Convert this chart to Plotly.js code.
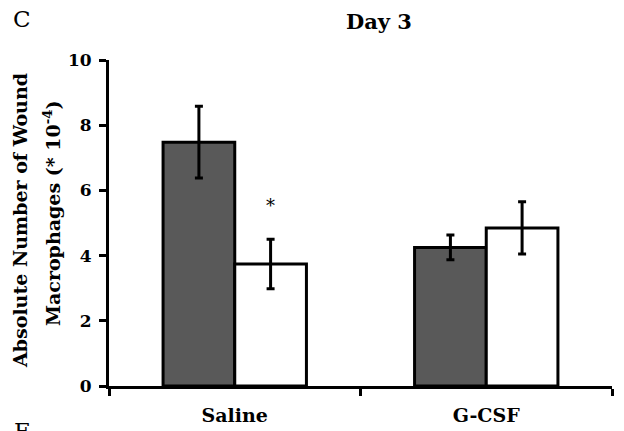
<!DOCTYPE html>
<html>
<head>
<meta charset="utf-8">
<script src="https://cdn.plot.ly/plotly-3.0.1.min.js"></script>
<style>html,body{margin:0;padding:0;background:#fff;}#chart{width:624px;height:431px;}</style>
</head>
<body>
<div id="chart"></div>
<script>
var categories = ['Saline', 'G-CSF'];
var darkValues = [7.48, 4.25];
var darkErrors = [1.1, 0.38];
var whiteValues = [3.74, 4.85];
var whiteErrors = [0.76, 0.8];
var yTicks = [0, 2, 4, 6, 8, 10];

var FONT = 'DejaVu Serif, Liberation Serif, serif';
var W = 503, H = 326, L = 109, T = 60;
function px(x) { return (x - L) / W; }
function py(y) { return (T + H - y) / H; }

var traces = [
  {
    type: 'bar', x: categories, y: darkValues,
    marker: {color: '#595959', line: {color: '#000', width: 3}},
    error_y: {type: 'data', array: darkErrors, visible: true, color: '#000', thickness: 3, width: 4},
    hoverinfo: 'none'
  },
  {
    type: 'bar', x: categories, y: whiteValues,
    marker: {color: '#ffffff', line: {color: '#000', width: 3}},
    error_y: {type: 'data', array: whiteErrors, visible: true, color: '#000', thickness: 3, width: 4},
    hoverinfo: 'none'
  }
];

var layout = {
  width: 624, height: 431,
  margin: {l: L, r: 624 - L - W, t: T, b: 431 - T - H},
  paper_bgcolor: '#fff', plot_bgcolor: '#fff',
  showlegend: false,
  barmode: 'group', bargap: 0.43, bargroupgap: 0,
  font: {family: FONT, color: '#000'},
  xaxis: {
    type: 'category', range: [-0.5, 1.5],
    showline: true, linecolor: '#000', linewidth: 3,
    ticks: 'outside', tickson: 'boundaries', ticklen: 7, tickwidth: 3, tickcolor: '#000',
    tickfont: {family: FONT, size: 19, color: '#000', weight: 'bold'},
    ticklabelstandoff: 10,
    showgrid: false, zeroline: false, fixedrange: true
  },
  yaxis: {
    range: [0, 10], tickvals: yTicks, ticktext: yTicks.map(String),
    showline: true, linecolor: '#000', linewidth: 3,
    ticks: 'outside', ticklen: 7, tickwidth: 3, tickcolor: '#000',
    tickfont: {family: FONT, size: 17, color: '#000', weight: 'bold'},
    ticklabelstandoff: 4,
    showgrid: false, zeroline: false, fixedrange: true
  },
  annotations: [
    {xref: 'paper', yref: 'paper', x: px(22), y: py(19), text: 'C', showarrow: false,
     font: {family: FONT, size: 23, color: '#000'}, xanchor: 'center', yanchor: 'middle'},
    {xref: 'paper', yref: 'paper', x: px(379), y: py(21), text: '<b>Day 3</b>', showarrow: false,
     font: {family: FONT, size: 21, color: '#000'}, xanchor: 'center', yanchor: 'middle'},
    {xref: 'paper', yref: 'paper', x: px(22), y: py(416), text: 'E', showarrow: false,
     font: {family: FONT, size: 23, color: '#000'}, xanchor: 'center', yanchor: 'top'},
    {xref: 'paper', yref: 'paper', x: px(20), y: py(221), textangle: -90,
     text: '<b>Absolute Number of Wound</b>', showarrow: false,
     font: {family: FONT, size: 19, color: '#000'}, xanchor: 'center', yanchor: 'middle'},
    {xref: 'paper', yref: 'paper', x: px(52), y: py(214), textangle: -90,
     text: '<b>Macrophages (* 10<sup>-4</sup>)</b>', showarrow: false,
     font: {family: FONT, size: 19, color: '#000'}, xanchor: 'center', yanchor: 'middle'},
    {xref: 'x', yref: 'y', x: categories[0], y: 5.55, xshift: 36, text: '*', showarrow: false,
     font: {family: FONT, size: 18, color: '#000'}, xanchor: 'center', yanchor: 'middle'}
  ]
};

Plotly.newPlot('chart', traces, layout, {displayModeBar: false, staticPlot: true});
</script>
</body>
</html>
